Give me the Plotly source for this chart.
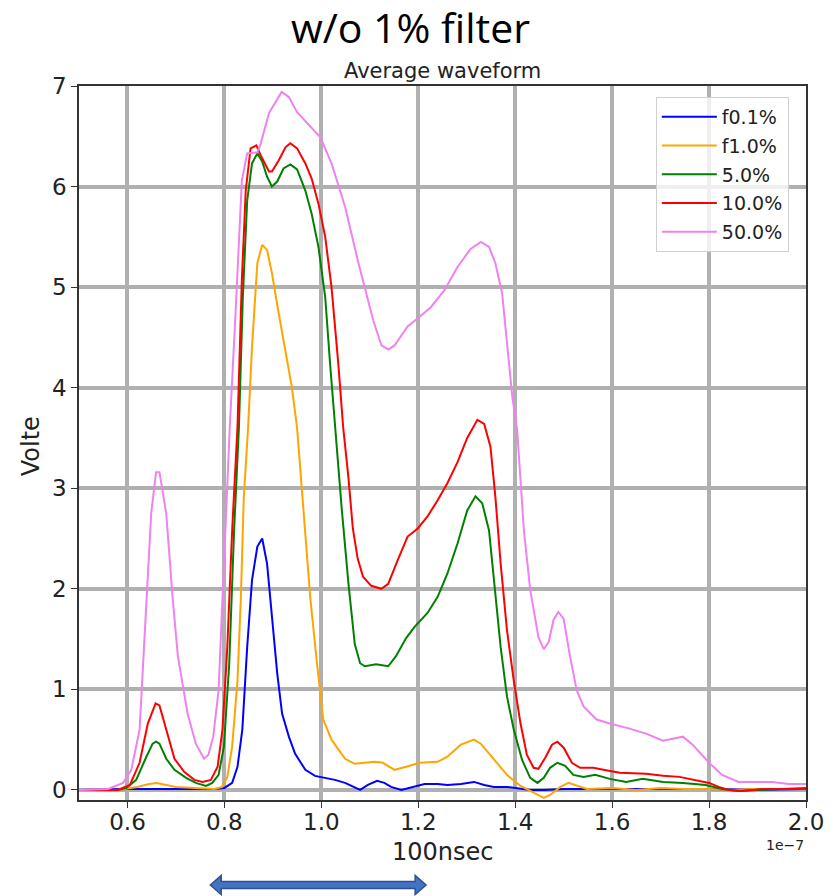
import plotly.graph_objects as go

# Time axis in units of 1e-7 s (100 ns); amplitude in volts
t_f01 = [0.50, 0.60, 0.70, 0.78, 0.80, 0.816, 0.827, 0.837, 0.847, 0.857, 0.868, 0.878,
         0.888, 0.898, 0.909, 0.919, 0.933, 0.946, 0.967, 0.987, 1.008, 1.028, 1.049,
         1.069, 1.080, 1.096, 1.115, 1.130, 1.144, 1.165, 1.192, 1.213, 1.240, 1.260,
         1.288, 1.315, 1.336, 1.356, 1.383, 1.400, 1.431, 1.460, 1.500, 1.600, 1.700,
         1.800, 1.900, 2.000]
v_f01 = [0.00, 0.01, 0.01, 0.01, 0.02, 0.07, 0.23, 0.60, 1.42, 2.09, 2.42, 2.50,
         2.25, 1.72, 1.16, 0.76, 0.53, 0.36, 0.20, 0.14, 0.12, 0.10, 0.07,
         0.03, 0.00, 0.05, 0.09, 0.07, 0.03, 0.00, 0.03, 0.06, 0.06, 0.05,
         0.06, 0.08, 0.05, 0.03, 0.03, 0.02, 0.00, 0.00, 0.01, 0.01, 0.01,
         0.01, 0.00, 0.01]

t_f10 = [0.50, 0.58, 0.62, 0.645, 0.66, 0.68, 0.70, 0.74, 0.78, 0.795, 0.806, 0.816,
         0.827, 0.834, 0.840, 0.849, 0.857, 0.868, 0.878, 0.888, 0.898, 0.912, 0.926,
         0.939, 0.950, 0.963, 0.977, 0.991, 1.004, 1.021, 1.049, 1.069, 1.090, 1.110,
         1.127, 1.151, 1.175, 1.203, 1.240, 1.260, 1.288, 1.315, 1.329, 1.356, 1.383,
         1.411, 1.438, 1.459, 1.472, 1.493, 1.510, 1.527, 1.548, 1.600, 1.650, 1.700,
         1.750, 1.800, 1.850, 1.900, 2.000]
v_f10 = [0.00, 0.00, 0.03, 0.06, 0.07, 0.05, 0.03, 0.02, 0.01, 0.03, 0.13, 0.43,
         1.09, 1.92, 2.91, 3.61, 4.41, 5.24, 5.42, 5.37, 5.14, 4.74, 4.34,
         4.01, 3.60, 2.75, 1.92, 1.26, 0.70, 0.50, 0.31, 0.26, 0.27, 0.28,
         0.27, 0.20, 0.23, 0.27, 0.28, 0.33, 0.45, 0.50, 0.46, 0.30, 0.15,
         0.04, -0.03, -0.08, -0.05, 0.03, 0.07, 0.04, 0.01, 0.02, 0.00, 0.02,
         0.01, 0.01, 0.00, 0.01, 0.01]

t_p5 = [0.50, 0.58, 0.598, 0.618, 0.639, 0.652, 0.659, 0.666, 0.680, 0.697, 0.721, 0.741,
        0.762, 0.775, 0.788, 0.799, 0.810, 0.820, 0.830, 0.838, 0.847, 0.857, 0.868,
        0.878, 0.888, 0.898, 0.909, 0.922, 0.936, 0.950, 0.967, 0.980, 0.994, 1.008,
        1.018, 1.028, 1.042, 1.056, 1.069, 1.080, 1.090, 1.113, 1.138, 1.154, 1.175,
        1.192, 1.219, 1.240, 1.260, 1.281, 1.301, 1.318, 1.332, 1.346, 1.356, 1.370,
        1.383, 1.397, 1.414, 1.431, 1.446, 1.459, 1.472, 1.487, 1.503, 1.520, 1.541,
        1.565, 1.595, 1.629, 1.663, 1.705, 1.746, 1.793, 1.827, 1.860, 1.900, 1.950,
        2.000]
v_p5 = [0.00, 0.00, 0.02, 0.10, 0.33, 0.46, 0.48, 0.46, 0.31, 0.20, 0.12, 0.07,
        0.04, 0.07, 0.15, 0.43, 1.26, 2.58, 3.61, 4.90, 5.86, 6.23, 6.33,
        6.25, 6.10, 6.00, 6.05, 6.18, 6.22, 6.17, 5.96, 5.73, 5.40, 4.90,
        4.24, 3.60, 2.80, 2.05, 1.45, 1.26, 1.23, 1.25, 1.23, 1.33, 1.51,
        1.62, 1.76, 1.92, 2.15, 2.45, 2.78, 2.92, 2.85, 2.58, 2.09, 1.42,
        0.93, 0.60, 0.30, 0.12, 0.07, 0.12, 0.22, 0.27, 0.24, 0.15, 0.13,
        0.15, 0.11, 0.08, 0.11, 0.08, 0.07, 0.05, 0.01, -0.01, 0.00, 0.01,
        0.01]

t_p10 = [0.50, 0.58, 0.605, 0.625, 0.642, 0.658, 0.666, 0.680, 0.697, 0.717, 0.738,
         0.755, 0.772, 0.786, 0.796, 0.806, 0.816, 0.827, 0.836, 0.844, 0.854, 0.866,
         0.875, 0.892, 0.898, 0.912, 0.926, 0.936, 0.950, 0.967, 0.980, 0.994, 1.008,
         1.021, 1.035, 1.045, 1.056, 1.065, 1.075, 1.086, 1.103, 1.124, 1.138, 1.158,
         1.178, 1.199, 1.219, 1.240, 1.260, 1.281, 1.301, 1.322, 1.336, 1.349, 1.359,
         1.370, 1.383, 1.397, 1.411, 1.424, 1.438, 1.448, 1.462, 1.476, 1.487, 1.500,
         1.517, 1.534, 1.561, 1.582, 1.616, 1.670, 1.705, 1.739, 1.773, 1.800, 1.820,
         1.841, 1.868, 1.909, 1.950, 2.000]
v_p10 = [0.00, 0.00, 0.05, 0.27, 0.66, 0.86, 0.84, 0.60, 0.31, 0.18, 0.10,
         0.08, 0.10, 0.23, 0.60, 1.42, 2.58, 3.61, 5.07, 5.96, 6.38, 6.41,
         6.31, 6.15, 6.15, 6.26, 6.39, 6.43, 6.38, 6.23, 6.08, 5.83, 5.50,
         5.00, 4.24, 3.61, 3.10, 2.60, 2.30, 2.12, 2.03, 2.00, 2.05, 2.29,
         2.52, 2.60, 2.72, 2.88, 3.05, 3.26, 3.50, 3.68, 3.64, 3.41, 2.92,
         2.25, 1.59, 1.09, 0.66, 0.35, 0.22, 0.21, 0.32, 0.45, 0.48, 0.42,
         0.27, 0.22, 0.22, 0.20, 0.17, 0.16, 0.14, 0.13, 0.10, 0.07, 0.03,
         0.00, -0.01, 0.01, 0.01, 0.02]

t_p50 = [0.50, 0.56, 0.591, 0.608, 0.625, 0.640, 0.649, 0.659, 0.666, 0.680, 0.693,
         0.704, 0.724, 0.741, 0.758, 0.767, 0.777, 0.788, 0.796, 0.806, 0.811, 0.823,
         0.836, 0.847, 0.868, 0.875, 0.892, 0.918, 0.933, 0.950, 0.974, 0.998, 1.021,
         1.049, 1.076, 1.107, 1.124, 1.138, 1.151, 1.178, 1.199, 1.226, 1.254, 1.281,
         1.308, 1.329, 1.346, 1.359, 1.373, 1.383, 1.394, 1.404, 1.418, 1.431, 1.448,
         1.459, 1.469, 1.479, 1.489, 1.500, 1.513, 1.527, 1.541, 1.568, 1.595, 1.636,
         1.670, 1.705, 1.725, 1.746, 1.766, 1.800, 1.827, 1.861, 1.896, 1.930, 1.964,
         2.000]
v_p50 = [0.00, 0.01, 0.07, 0.20, 0.60, 1.92, 2.75, 3.16, 3.16, 2.75, 1.92,
         1.33, 0.76, 0.46, 0.31, 0.35, 0.53, 0.99, 1.92, 2.92, 3.60, 4.74,
         6.06, 6.33, 6.34, 6.43, 6.73, 6.94, 6.89, 6.74, 6.61, 6.49, 6.23,
         5.80, 5.25, 4.67, 4.42, 4.38, 4.42, 4.61, 4.69, 4.80, 4.97, 5.20,
         5.38, 5.45, 5.40, 5.24, 4.94, 4.47, 3.91, 3.58, 2.58, 1.99, 1.52,
         1.40, 1.47, 1.69, 1.77, 1.70, 1.33, 0.99, 0.83, 0.70, 0.66, 0.61,
         0.56, 0.49, 0.51, 0.53, 0.45, 0.27, 0.15, 0.08, 0.08, 0.08, 0.06,
         0.06]

series_names = ["f0.1%", "f1.0%", "5.0%", "10.0%", "50.0%"]
series_colors = ["blue", "orange", "green", "red", "violet"]
series_t = [t_f01, t_f10, t_p5, t_p10, t_p50]
series_v = [v_f01, v_f10, v_p5, v_p10, v_p50]

x_ticks = [0.6, 0.8, 1.0, 1.2, 1.4, 1.6, 1.8, 2.0]
y_ticks = [0, 1, 2, 3, 4, 5, 6, 7]

W, H = 836, 896
ML, MR, MT, MB = 79, 26, 86, 96
PW, PH = W - ML - MR, H - MT - MB


def px(x):
    return (x - ML) / PW


def py(y):
    return (H - MB - y) / PH


MPL = "DejaVu Sans"

fig = go.Figure()
for i, (name, color, t, v) in enumerate(zip(series_names, series_colors, series_t, series_v)):
    fig.add_trace(go.Scatter(
        x=t, y=v, mode="lines", name=name, legendgroup=f"g{i}",
        line=dict(color=color, width=2),
    ))

axis_common = dict(
    showgrid=True, gridcolor="#b0b0b0", gridwidth=4,
    showline=True, linecolor="#333333", linewidth=1.5, mirror=True,
    ticks="outside", ticklen=6, tickwidth=1.2, tickcolor="#333333",
    tickfont=dict(family=MPL, size=23, color="#222222"),
    zeroline=False,
)

fig.update_layout(
    width=W, height=H,
    margin=dict(l=ML, r=MR, t=MT, b=MB, pad=0),
    paper_bgcolor="white", plot_bgcolor="white",
    xaxis=dict(range=[0.5, 2.0], tickvals=x_ticks, tickformat=".1f",
               ticklabelstandoff=-5, **axis_common),
    yaxis=dict(range=[-0.1, 7.0], tickvals=y_ticks, **axis_common),
    showlegend=True,
    legend=dict(
        x=px(659), y=py(97), xanchor="left", yanchor="top",
        bgcolor="rgba(255,255,255,0.8)", bordercolor="#d0d0d0", borderwidth=1,
        font=dict(family=MPL, size=19, color="#222222"),
        tracegroupgap=1, itemwidth=55,
    ),
    font=dict(family=MPL),
)

# Page heading, axes title and labels
fig.add_annotation(text="w/o 1% filter", x=px(412.5), y=py(27), xref="paper", yref="paper",
                   showarrow=False, xanchor="center", yanchor="middle",
                   font=dict(family="Open Sans", size=41, color="black"))
fig.add_annotation(text="Average waveform", x=0.5, y=py(71), xref="paper", yref="paper",
                   showarrow=False, xanchor="center", yanchor="middle",
                   font=dict(family=MPL, size=21, color="#222222"))
fig.add_annotation(text="Volte", x=px(31), y=py(446), xref="paper", yref="paper",
                   showarrow=False, xanchor="center", yanchor="middle", textangle=-90,
                   font=dict(family=MPL, size=24, color="#222222"))
fig.add_annotation(text="100nsec", x=0.5, y=py(852), xref="paper", yref="paper",
                   showarrow=False, xanchor="center", yanchor="middle",
                   font=dict(family=MPL, size=24, color="#222222"))
fig.add_annotation(text="1e\u22127", x=1.0, y=py(845), xref="paper", yref="paper",
                   showarrow=False, xanchor="right", yanchor="middle",
                   font=dict(family=MPL, size=14, color="#222222"))

# Double-headed arrow below the x-axis
ax0, ax1, ay = 211, 428, 885
head, hh, sh = 11, 9.5, 3.5
pts = [(ax0, ay), (ax0 + head, ay - hh), (ax0 + head, ay - sh), (ax1 - head, ay - sh),
       (ax1 - head, ay - hh), (ax1, ay), (ax1 - head, ay + hh), (ax1 - head, ay + sh),
       (ax0 + head, ay + sh), (ax0 + head, ay + hh)]
path = "M " + " L ".join(f"{px(a):.5f},{py(b):.5f}" for a, b in pts) + " Z"
fig.add_shape(type="path", path=path, xref="paper", yref="paper",
              fillcolor="#4472C4", line=dict(color="#2F528F", width=1.5), layer="above")

fig.write_html("out.html")
